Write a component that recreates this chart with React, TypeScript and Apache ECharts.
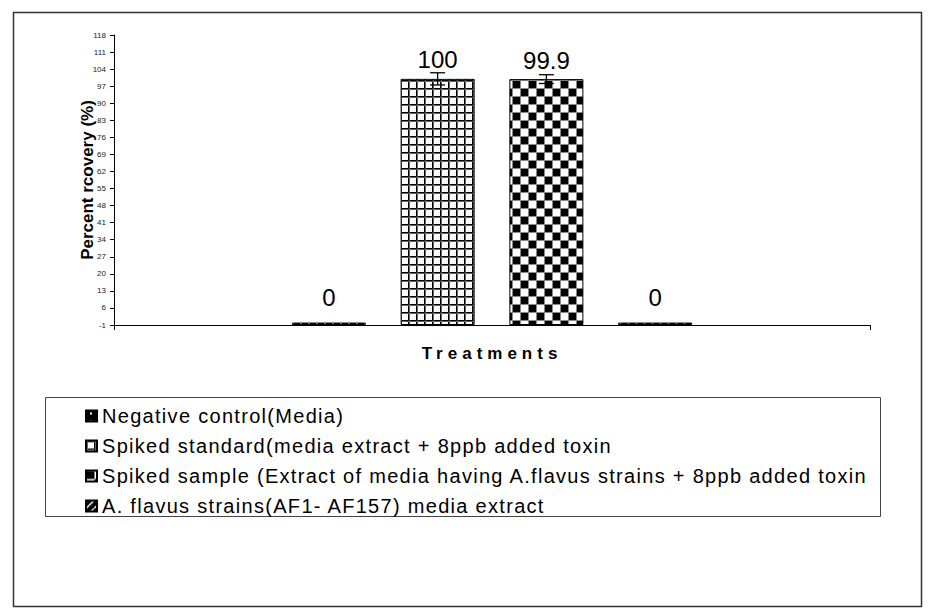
import React, { useEffect, useRef } from "react";
import * as echarts from "echarts";

const seriesNames = [
  "Negative control(Media)",
  "Spiked standard(media extract + 8ppb added toxin",
  "Spiked sample (Extract of media having A.flavus strains + 8ppb added toxin",
  "A. flavus strains(AF1- AF157) media extract",
];
const recoveryValues = [0, 100, 99.9, 0];
const errorValues = [0, 2.5, 1.8, 0];
const categories = [""];
const AXIS_MIN = -1;
const AXIS_MAX = 118;
const AXIS_STEP = 7;

const FONT = "'Liberation Sans', Arial, sans-serif";
const BAR_WIDTH = 74;
const BAR_GAP = 0.47;
const CAP = 15;

function makeTile(size: number, draw: (ctx: CanvasRenderingContext2D) => void) {
  const c = document.createElement("canvas");
  c.width = size;
  c.height = size;
  const ctx = c.getContext("2d")!;
  draw(ctx);
  return { image: c, repeat: "repeat", imageWidth: size, imageHeight: size } as any;
}

function makePatterns() {
  const dots = makeTile(8, (ctx) => {
    ctx.fillStyle = "#000";
    ctx.fillRect(0, 0, 8, 8);
    ctx.fillStyle = "#fff";
    ctx.fillRect(4, 2, 2, 2);
  });
  const grid = makeTile(8, (ctx) => {
    ctx.fillStyle = "#fff";
    ctx.fillRect(0, 0, 8, 8);
    ctx.fillStyle = "#000";
    ctx.fillRect(0, 0, 8, 1);
    ctx.fillRect(0, 0, 1, 8);
    ctx.fillStyle = "#666";
    ctx.fillRect(0, 1, 8, 1);
    ctx.fillRect(1, 0, 1, 8);
  });
  const checker = makeTile(16, (ctx) => {
    ctx.fillStyle = "#fff";
    ctx.fillRect(0, 0, 16, 16);
    ctx.fillStyle = "#000";
    ctx.fillRect(1, 1, 7, 7);
    ctx.fillRect(9, 9, 7, 7);
    ctx.fillStyle = "#888";
    ctx.fillRect(0, 0, 16, 1);
    ctx.fillRect(0, 0, 1, 16);
    ctx.fillRect(0, 8, 16, 1);
    ctx.fillRect(8, 0, 1, 16);
  });
  const stripes = makeTile(8, (ctx) => {
    ctx.fillStyle = "#000";
    ctx.fillRect(0, 0, 8, 8);
    ctx.strokeStyle = "#fff";
    ctx.lineWidth = 1.5;
    ctx.beginPath();
    ctx.moveTo(0, 8);
    ctx.lineTo(8, 0);
    ctx.stroke();
  });
  return [dots, grid, checker, stripes];
}

export default function App() {
  const ref = useRef<HTMLDivElement>(null);

  useEffect(() => {
    if (!ref.current) return;
    const chart = echarts.init(ref.current, null, { renderer: "svg" });
    const patterns = makePatterns();

    const barSeries = seriesNames.map((name, i) => ({
      name,
      type: "bar",
      barWidth: BAR_WIDTH,
      barGap: `${BAR_GAP * 100}%`,
      data: [recoveryValues[i] - AXIS_MIN],
      itemStyle: {
        color: patterns[i],
        borderColor: "#000",
        borderWidth: 1,
      },
      label: {
        show: true,
        position: "top",
        distance: errorValues[i] ? 7 : 13,
        fontSize: 24,
        fontFamily: FONT,
        color: "#000",
        formatter: () => String(recoveryValues[i]),
      },
      z: 2,
    }));

    const errorSeries = {
      type: "custom",
      name: "error",
      silent: true,
      z: 5,
      clip: false,
      encode: { x: 0, y: 1 },
      data: recoveryValues.map((v, i) => [0, v - AXIS_MIN, errorValues[i], i]),
      renderItem: (params: any, api: any) => {
        const val = api.value(1);
        const err = api.value(2);
        const idx = api.value(3);
        if (!err) return { type: "group", children: [] };
        const n = seriesNames.length;
        const base = api.coord([0, val]);
        const step = BAR_WIDTH * (1 + BAR_GAP);
        const cx = base[0] + (idx - (n - 1) / 2) * step;
        const top = api.coord([0, val + err])[1];
        const bot = api.coord([0, val - err])[1];
        const style = { stroke: "#000", lineWidth: 1.3 };
        return {
          type: "group",
          children: [
            { type: "line", shape: { x1: cx, y1: top, x2: cx, y2: bot }, style },
            { type: "line", shape: { x1: cx - CAP / 2, y1: top, x2: cx + CAP / 2, y2: top }, style },
            { type: "line", shape: { x1: cx - CAP / 2, y1: bot, x2: cx + CAP / 2, y2: bot }, style },
          ],
        };
      },
    };

    chart.setOption({
      animation: false,
      backgroundColor: "#fff",
      textStyle: { fontFamily: FONT },
      grid: { left: 114, top: 35, width: 756, height: 290, containLabel: false },
      xAxis: {
        type: "category",
        data: categories,
        boundaryGap: true,
        name: "Treatments",
        nameLocation: "middle",
        nameGap: 20,
        nameMoveOverlap: false,
        nameTextStyle: { fontSize: 17, fontWeight: "bold", color: "#000", fontFamily: FONT, verticalAlign: "top" },
        axisLine: { lineStyle: { color: "#000", width: 1 } },
        axisTick: { show: true, length: 5, lineStyle: { color: "#000" } },
        axisLabel: { show: false },
        splitLine: { show: false },
      },
      yAxis: {
        type: "value",
        min: 0,
        max: AXIS_MAX - AXIS_MIN,
        interval: AXIS_STEP,
        name: "Percent rcovery (%)",
        nameLocation: "middle",
        nameRotate: 90,
        nameGap: 18,
        nameMoveOverlap: false,
        nameTextStyle: { fontSize: 17, fontWeight: "bold", color: "#000", fontFamily: FONT },
        axisLine: { show: true, lineStyle: { color: "#000", width: 1 } },
        axisTick: { show: true, length: 4, lineStyle: { color: "#000" } },
        axisLabel: {
          fontSize: 8,
          color: "#222",
          margin: 8,
          fontFamily: FONT,
          formatter: (v: number) => String(v + AXIS_MIN),
        },
        splitLine: { show: false },
      },
      legend: {
        show: true,
        data: seriesNames.map((name) => ({ name, icon: "rect" })),
        orient: "vertical",
        left: 85,
        top: 405,
        itemWidth: 11,
        itemHeight: 11,
        itemGap: 8,
        padding: 0,
        textStyle: { fontSize: 20, lineHeight: 22, color: "#000", fontFamily: FONT },
      },
      graphic: [
        {
          type: "rect",
          silent: true,
          z: -10,
          shape: { x: 13.5, y: 12.5, width: 908, height: 594 },
          style: { fill: "none", stroke: "#333", lineWidth: 1.5 },
        },
        {
          type: "rect",
          silent: true,
          z: -10,
          shape: { x: 45.5, y: 397.5, width: 835, height: 119 },
          style: { fill: "none", stroke: "#444", lineWidth: 1 },
        },
      ],
      series: [...barSeries, errorSeries],
    });

    const texts = ref.current.querySelectorAll("text");
    texts.forEach((t) => {
      const s = t.textContent || "";
      if (s === "Treatments") {
        (t as SVGTextElement).style.letterSpacing = "5px";
      } else if (seriesNames.indexOf(s) >= 0) {
        (t as SVGTextElement).style.letterSpacing = "1.3px";
      }
    });

    return () => chart.dispose();
  }, []);

  return (
    <div
      ref={ref}
      style={{ position: "fixed", left: 0, top: 0, width: 935, height: 613 }}
    />
  );
}
